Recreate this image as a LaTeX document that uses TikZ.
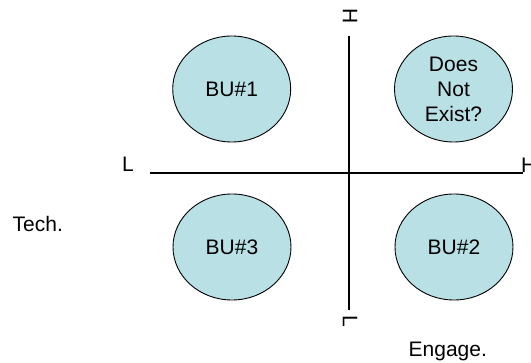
\documentclass[tikz,border=0pt]{standalone}
\usepackage{fontspec}
\setmainfont{Liberation Sans}
\usetikzlibrary{shapes.geometric}
\definecolor{bubble}{RGB}{185,224,228}
\begin{document}
\begin{tikzpicture}[x=1pt,y=-1pt,
  axis/.style={line width=1.5pt,black},
  unit/.style={ellipse,draw=black,line width=0.9pt,fill=bubble,
    minimum width=118pt,minimum height=106pt,inner sep=0pt,
    font=\fontsize{21}{25}\selectfont,align=center},
  lbl/.style={font=\fontsize{21}{25}\selectfont,inner sep=0pt}]
\useasboundingbox (0,0) rectangle (531,363);
% quadrant axes
\coordinate (vtop) at (349,36);
\coordinate (vbot) at (349,310);
\coordinate (hleft) at (150,173);
\coordinate (hright) at (523,173);
\draw[axis] (vtop) -- (vbot);
\draw[axis] (hleft) -- (hright);
% axis end labels
\node[lbl,rotate=-90] (vhigh) at (350,16.5) {H};
\node[lbl,rotate=-90] (vlow) at (350,321) {L};
\node[lbl,anchor=base west] (hlow) at (122,172) {L};
\node[lbl,anchor=base west] (hhigh) at (521,173) {H};
% axis titles
\node[lbl,anchor=base west] (tech) at (12.5,231.5) {Tech.};
\node[lbl,anchor=base west] (engage) at (408.5,357) {Engage.};
% business units
\node[unit] (bu1) at (231.7,89) {BU\#1};
\node[unit] (dne) at (453.5,89) {Does\\Not\\Exist?};
\node[unit] (bu3) at (232,247) {BU\#3};
\node[unit] (bu2) at (454,247) {BU\#2};
\end{tikzpicture}
\end{document}
